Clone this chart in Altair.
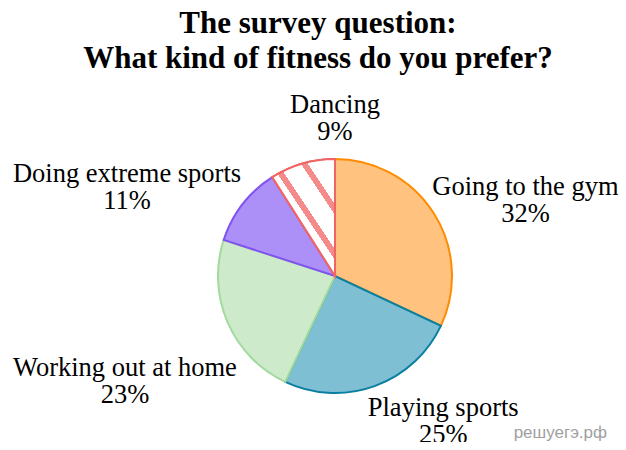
import altair as alt
import pandas as pd

# ---- data ----
categories = ["Going to the gym", "Playing sports", "Working out at home",
              "Doing extreme sports", "Dancing"]
values = [32, 25, 23, 11, 9]
title_lines = ["The survey question:", "What kind of fitness do you prefer?"]
watermark = ["решуегэ.рф"]

# ---- styles / layout ----
fills = ["#FFC27F", "#7FBFD4", "#CDEACA", "#AD8FF8", "#FFFFFF"]
strokes = ["#FF8C00", "#0A7FA0", "#A3DA9E", "#8052F0", "#F06464"]
label_radius = [205, 181, 235, 226, 158]      # px from centre
label_nudge = [2.97, -4.7, -0.9, -4.1, 4.5]   # percent of circle
CX, CY, R = 327, 194, 117

df = pd.DataFrame({
    "category": categories,
    "value": values,
    "order": list(range(len(categories))),
    "lr": label_radius,
    "nudge": label_nudge,
})

base = alt.Chart(df).transform_window(
    end="sum(value)", frame=[None, 0], sort=[{"field": "order"}]
).transform_calculate(
    start="datum.end - datum.value",
    mid="datum.end - datum.value / 2 + datum.nudge",
    label="datum.category + '\\n' + datum.value + '%'",
)

theta_scale = alt.Scale(domain=[0, 100])

arcs = base.mark_arc(outerRadius=R, strokeWidth=2).encode(
    theta=alt.Theta("start:Q", scale=theta_scale),
    theta2="end:Q",
    fill=alt.Fill("category:N", scale=alt.Scale(domain=categories, range=fills), legend=None),
    stroke=alt.Stroke("category:N", scale=alt.Scale(domain=categories, range=strokes), legend=None),
    x=alt.value(CX),
    y=alt.value(CY),
)

# striped overlay for the "Dancing" slice
stops = [alt.GradientStop(offset=0, color="white")]
for c in [0.14, 0.39, 0.64, 0.89]:
    stops += [
        alt.GradientStop(offset=c - 0.03, color="white"),
        alt.GradientStop(offset=c - 0.03, color="#F58A8A"),
        alt.GradientStop(offset=c + 0.03, color="#F58A8A"),
        alt.GradientStop(offset=c + 0.03, color="white"),
    ]
stops.append(alt.GradientStop(offset=1, color="white"))

dance = base.transform_filter(alt.datum.category == "Dancing").mark_arc(
    outerRadius=R, strokeWidth=2, stroke="#F06464",
    fill=alt.LinearGradient(gradient="linear", stops=stops,
                            x1=0, y1=1, x2=0.752, y2=0.065),
).encode(
    theta=alt.Theta("start:Q", scale=theta_scale),
    theta2="end:Q",
    x=alt.value(CX),
    y=alt.value(CY),
)

labels = base.mark_text(
    font="Liberation Serif", fontSize=26.5, lineBreak="\n", lineHeight=27,
    align="center", baseline="middle", color="black", dy=-13.5,
).encode(
    theta=alt.Theta("mid:Q", scale=theta_scale),
    radius=alt.Radius("lr:Q", scale=None),
    text="label:N",
    x=alt.value(CX),
    y=alt.value(CY),
)

title = alt.Chart(pd.DataFrame({"t": ["\n".join(title_lines)]})).mark_text(
    font="Liberation Serif", fontSize=31, fontWeight="bold", lineBreak="\n",
    lineHeight=35, align="center", baseline="alphabetic", color="black",
).encode(text="t:N", x=alt.value(310), y=alt.value(-49))

wm = alt.Chart(pd.DataFrame({"t": watermark})).mark_text(
    font="Liberation Sans", fontSize=17, color="#A0A0A0", align="right",
    baseline="alphabetic",
).encode(text="t:N", x=alt.value(599), y=alt.value(356))

chart = alt.layer(arcs, dance, labels, title, wm).properties(
    width=610, height=360,
    autosize=alt.AutoSizeParams(type="none"),
    padding={"left": 0, "right": 0, "top": 74, "bottom": 0},
).configure_view(stroke=None)

chart.save("out.html", embed_options={"renderer": "svg", "actions": False})
